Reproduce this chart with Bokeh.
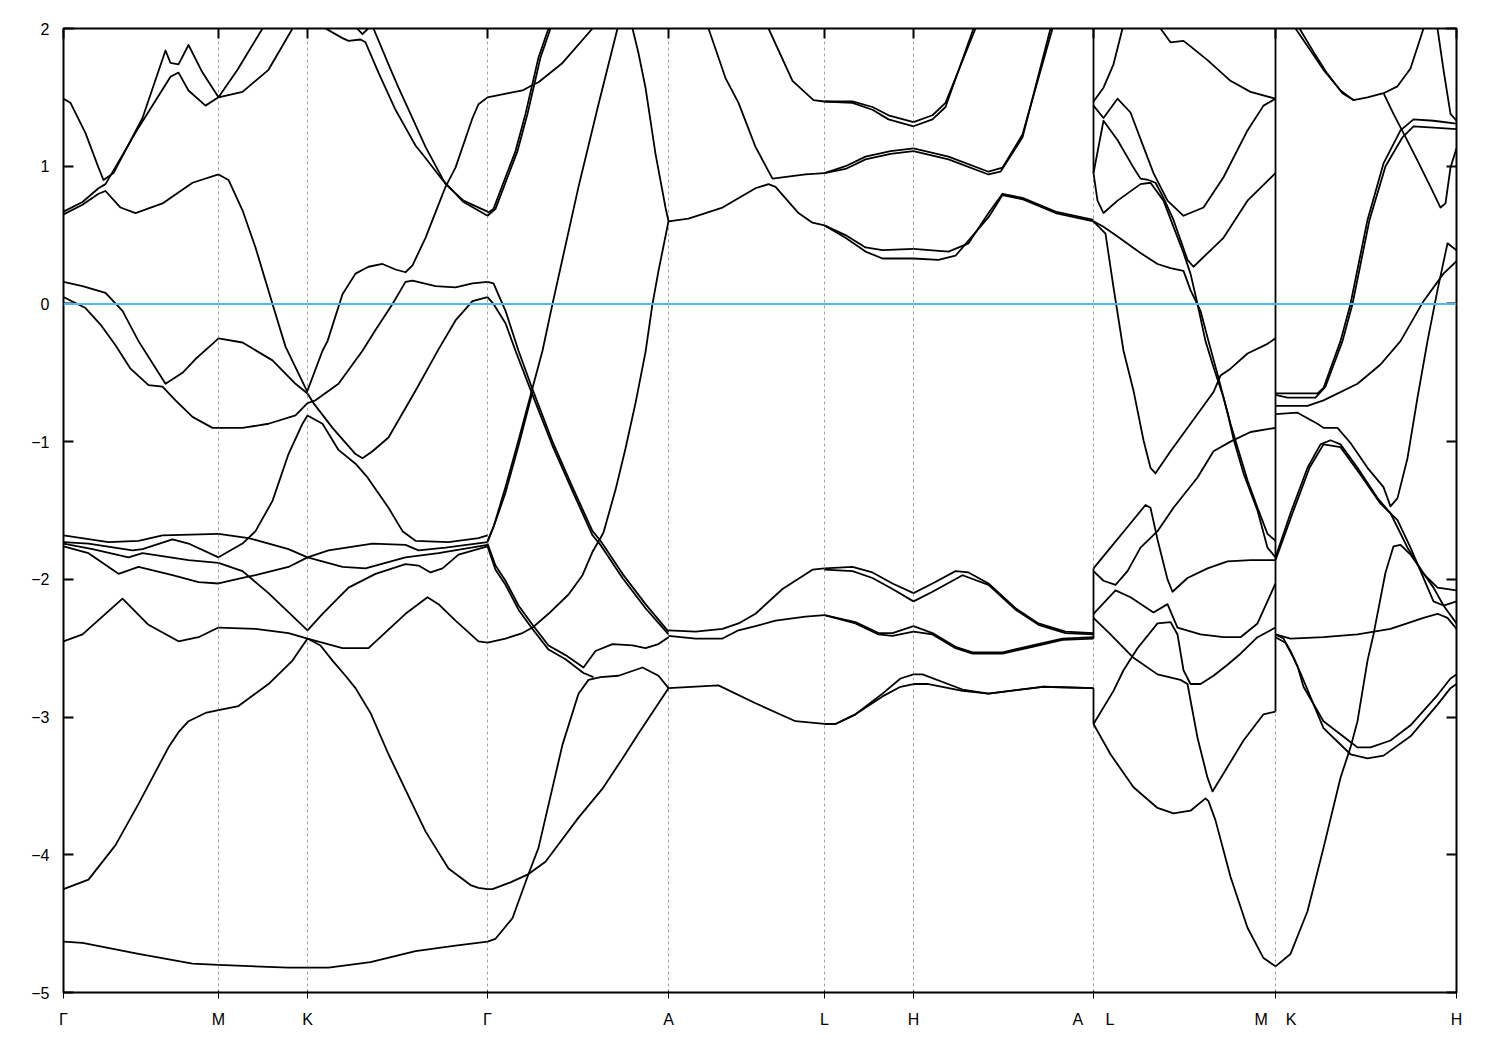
from bokeh.plotting import figure
from bokeh.models import (Range1d, FixedTicker, LinearAxis, Span, CustomJSTickFormatter)
from bokeh.embed import file_html
from bokeh.resources import INLINE

# ---------------- data ----------------
kpath = [0.00, 1.55, 2.44, 4.24, 6.05, 7.61, 8.50, 10.30, 12.12, 13.93]
# labels at each tick; the two discontinuities carry two labels (left|right)
klabels = ["Γ", "M", "K", "Γ", "A", "L", "H", "A\u00a0\u00a0\u00a0\u00a0\u00a0L", "M\u00a0\u00a0\u00a0\u00a0K", "H"]
yticks = [-5, -4, -3, -2, -1, 0, 1, 2]
fermi_level = 0.0

# Gamma - M
gm_a = [(0.00,1.49),(0.07,1.46),(0.22,1.24),(0.35,0.99),(0.40,0.90),(0.50,0.95),(0.79,1.35),(1.02,1.84),(1.07,1.75),(1.15,1.74),(1.25,1.88),(1.39,1.68),(1.55,1.50)]
gm_b = [(0.00,0.67),(0.19,0.74),(0.35,0.84),(0.42,0.87),(0.75,1.28),(1.07,1.65),(1.15,1.68),(1.25,1.55),(1.42,1.44),(1.55,1.50)]
gm_c = [(0.00,0.65),(0.19,0.72),(0.35,0.80),(0.42,0.82),(0.57,0.70),(0.72,0.66),(0.99,0.73),(1.29,0.88),(1.55,0.94)]
gm_d = [(0.00,0.16),(0.19,0.13),(0.42,0.08),(0.59,-0.05),(0.75,-0.27),(0.89,-0.43),(1.02,-0.58),(1.19,-0.50),(1.32,-0.40),(1.49,-0.29),(1.55,-0.25)]
gm_e = [(0.00,0.05),(0.22,-0.03),(0.37,-0.15),(0.52,-0.30),(0.67,-0.47),(0.85,-0.59),(0.99,-0.60),(1.12,-0.70),(1.29,-0.82),(1.49,-0.90),(1.55,-0.90)]
gm_l1 = [(0.00,-1.68),(0.45,-1.73),(0.75,-1.72),(0.99,-1.68),(1.55,-1.67)]
gm_l2 = [(0.00,-1.73),(0.25,-1.74),(0.69,-1.79),(0.79,-1.78),(1.09,-1.71),(1.25,-1.74),(1.55,-1.84)]
gm_l3 = [(0.00,-1.74),(0.29,-1.78),(0.65,-1.84),(0.79,-1.81),(1.25,-1.86),(1.55,-1.88)]
gm_l4 = [(0.00,-1.76),(0.25,-1.81),(0.55,-1.96),(0.75,-1.91),(1.09,-1.97),(1.35,-2.02),(1.55,-2.03)]
gm_l5 = [(0.00,-2.45),(0.19,-2.40),(0.59,-2.14),(0.85,-2.33),(1.15,-2.45),(1.35,-2.42),(1.55,-2.35)]
gm_l6 = [(0.00,-4.25),(0.25,-4.18),(0.52,-3.93),(0.75,-3.63),(1.05,-3.22),(1.15,-3.11),(1.25,-3.03),(1.42,-2.97),(1.55,-2.95)]
gm_l7 = [(0.00,-4.63),(0.19,-4.64),(0.75,-4.72),(1.29,-4.79),(1.55,-4.80)]

# M - K
mk_a = [(1.55,1.50),(1.74,1.70),(1.99,2.00),(2.12,2.20)]
mk_b = [(1.55,1.50),(1.79,1.54),(2.05,1.70),(2.29,2.00),(2.37,2.10)]
mk_c = [(1.55,0.94),(1.65,0.90),(1.79,0.68),(1.92,0.41),(2.09,0.00),(2.22,-0.31),(2.44,-0.64)]
mk_d = [(1.55,-0.25),(1.79,-0.28),(2.09,-0.41),(2.32,-0.58),(2.44,-0.65)]
mk_e = [(1.55,-0.90),(1.79,-0.90),(2.05,-0.87),(2.32,-0.81),(2.44,-0.72)]
mk_l1 = [(1.55,-1.67),(1.85,-1.70),(2.25,-1.78),(2.44,-1.84)]
mk_l2 = [(1.55,-1.84),(1.79,-1.74),(1.92,-1.65),(2.09,-1.43),(2.25,-1.09),(2.39,-0.87),(2.44,-0.81)]
mk_l3 = [(1.55,-1.88),(1.79,-1.94),(2.05,-2.10),(2.44,-2.37)]
mk_l4 = [(1.55,-2.03),(1.79,-1.99),(1.92,-1.97),(2.25,-1.91),(2.44,-1.84)]
mk_l5 = [(1.55,-2.35),(1.92,-2.36),(2.25,-2.39),(2.44,-2.43)]
mk_l6 = [(1.55,-2.95),(1.75,-2.92),(2.05,-2.76),(2.29,-2.59),(2.44,-2.43)]
mk_l7 = [(1.55,-4.80),(2.25,-4.82),(2.44,-4.82)]

# K - Gamma
kg_t1 = [(2.52,2.10),(2.62,2.00),(2.79,1.93),(2.85,1.91),(2.97,1.92),(3.02,1.90),(3.15,1.68),(3.32,1.41),(3.42,1.28),(3.52,1.15),(3.62,1.06),(3.79,0.90),(4.00,0.74),(4.24,0.64)]
kg_t2 = [(3.02,2.10),(3.10,2.00),(3.25,1.74),(3.35,1.57),(3.42,1.46),(3.62,1.14),(3.82,0.87),(4.00,0.75),(4.24,0.67)]
kg_t3 = [(2.87,2.05),(2.99,1.96),(3.12,2.05)]
kg_1 = [(2.44,-0.72),(2.52,-0.70),(2.75,-0.58),(2.99,-0.34),(3.12,-0.19),(3.29,0.00),(3.42,0.16),(3.49,0.17),(3.72,0.13),(3.92,0.12),(4.09,0.15),(4.24,0.16)]
kg_2 = [(2.44,-0.65),(2.50,-0.72),(2.69,-0.90),(2.92,-1.09),(2.99,-1.12),(3.09,-1.07),(3.25,-0.97),(3.52,-0.63),(3.75,-0.33),(3.92,-0.12),(4.09,0.02),(4.24,0.05)]
kg_3 = [(2.44,-0.63),(2.59,-0.34),(2.64,-0.27),(2.79,0.07),(2.92,0.22),(3.05,0.27),(3.19,0.29),(3.32,0.25),(3.42,0.23),(3.49,0.28),(3.62,0.48),(3.82,0.85),(3.92,0.99),(4.09,1.35),(4.15,1.45),(4.24,1.50)]
kg_p = [(2.44,-0.81),(2.59,-0.87),(2.75,-1.06),(2.92,-1.16),(3.04,-1.26),(3.25,-1.48),(3.39,-1.65),(3.52,-1.72),(3.85,-1.73),(4.15,-1.70),(4.24,-1.68)]
kg_q = [(2.44,-1.84),(2.65,-1.79),(3.09,-1.74),(3.42,-1.75),(3.55,-1.79),(3.82,-1.77),(4.24,-1.73)]
kg_r = [(2.44,-1.84),(2.79,-1.91),(3.02,-1.92),(3.42,-1.84),(3.75,-1.81),(4.24,-1.75)]
kg_s = [(2.44,-2.37),(2.59,-2.25),(2.85,-2.06),(3.12,-1.96),(3.42,-1.89),(3.55,-1.90),(3.67,-1.95),(3.79,-1.92),(3.95,-1.82),(4.24,-1.76)]
kg_t = [(2.44,-2.43),(2.79,-2.50),(3.05,-2.50),(3.42,-2.25),(3.64,-2.13),(3.75,-2.18),(3.92,-2.30),(4.15,-2.45),(4.24,-2.46)]
kg_u = [(2.44,-2.43),(2.57,-2.48),(2.69,-2.59),(2.82,-2.70),(2.92,-2.79),(3.07,-2.97),(3.25,-3.27),(3.52,-3.68),(3.62,-3.83),(3.85,-4.10),(4.07,-4.22),(4.15,-4.24),(4.24,-4.25)]
kg_v = [(2.44,-4.82),(2.65,-4.82),(3.07,-4.78),(3.52,-4.70),(3.92,-4.66),(4.24,-4.63)]

# Gamma - A
ga_t1 = [(4.24,0.66),(4.30,0.69),(4.42,0.92),(4.52,1.11),(4.62,1.38),(4.69,1.60),(4.75,1.79),(4.85,2.00),(4.89,2.15)]
ga_t2 = [(4.24,0.64),(4.32,0.69),(4.44,0.92),(4.54,1.11),(4.64,1.38),(4.71,1.60),(4.77,1.79),(4.87,2.00),(4.91,2.15)]
ga_h = [(4.24,1.50),(4.45,1.53),(4.59,1.55),(4.69,1.59),(4.75,1.61),(4.99,1.75),(5.29,2.00),(5.37,2.07)]
ga_g1 = [(4.24,-1.72),(4.30,-1.62),(4.42,-1.33),(4.55,-0.99),(4.69,-0.61),(4.79,-0.34),(4.89,0.00),(5.15,0.85),(5.35,1.45),(5.54,2.00),(5.58,2.12)]
ga_g2 = [(4.24,-1.73),(4.32,-1.58),(4.42,-1.37),(4.55,-1.03),(4.69,-0.64)]
ga_d1 = [(4.24,0.16),(4.30,0.15),(4.42,-0.05),(4.55,-0.34),(4.69,-0.62),(4.89,-1.00),(5.09,-1.33),(5.29,-1.65),(5.37,-1.72),(5.59,-1.96),(5.82,-2.18),(6.05,-2.38)]
ga_d2 = [(4.24,0.05),(4.30,0.00),(4.42,-0.14),(4.52,-0.34),(4.69,-0.66),(4.89,-1.03),(5.09,-1.36),(5.29,-1.68),(5.37,-1.75),(5.59,-1.99),(5.82,-2.21),(6.05,-2.40)]
ga_top = [(5.65,2.10),(5.69,2.00),(5.75,1.82),(5.82,1.57),(5.92,1.09),(6.02,0.70),(6.05,0.60)]
ga_w = [(4.24,-2.46),(4.42,-2.43),(4.59,-2.39),(4.69,-2.35),(4.85,-2.25),(5.05,-2.11),(5.19,-1.97),(5.29,-1.80),(5.37,-1.70),(5.40,-1.66),(5.52,-1.35),(5.62,-1.05),(5.72,-0.72),(5.82,-0.35),(5.89,0.00),(5.95,0.24),(6.05,0.60)]
ga_x1 = [(4.24,-1.74),(4.32,-1.90),(4.42,-2.01),(4.55,-2.19),(4.69,-2.33),(4.85,-2.48),(5.02,-2.55),(5.20,-2.64),(5.32,-2.52),(5.49,-2.47),(5.69,-2.48),(5.82,-2.50),(5.95,-2.47),(6.05,-2.42)]
ga_x2 = [(4.24,-1.76),(4.32,-1.93),(4.42,-2.04),(4.55,-2.22),(4.69,-2.36),(4.85,-2.51),(5.02,-2.58),(5.20,-2.68),(5.30,-2.71)]
ga_bot = [(4.24,-4.63),(4.32,-4.61),(4.49,-4.46),(4.65,-4.14),(4.75,-3.95),(4.99,-3.20),(5.15,-2.83),(5.25,-2.73),(5.37,-2.71),(5.55,-2.70),(5.79,-2.64),(5.95,-2.70),(6.05,-2.79)]
ga_u = [(4.24,-4.25),(4.29,-4.25),(4.47,-4.20),(4.65,-4.14),(4.82,-4.05),(5.15,-3.73),(5.39,-3.52),(5.59,-3.30),(5.75,-3.12),(6.05,-2.79)]

# A - L
al_top = [(6.37,2.15),(6.45,2.00),(6.62,1.64),(6.75,1.46),(6.92,1.14),(7.09,0.91),(7.42,0.94),(7.61,0.95)]
al_top2 = [(6.99,2.15),(7.05,2.00),(7.29,1.62),(7.50,1.48),(7.61,1.47)]
al_mid = [(6.05,0.60),(6.25,0.62),(6.59,0.70),(6.92,0.84),(7.05,0.87),(7.12,0.85),(7.35,0.66),(7.49,0.59),(7.61,0.57)]
al_l1 = [(6.05,-2.37),(6.32,-2.38),(6.59,-2.36),(6.75,-2.32),(6.92,-2.25),(7.19,-2.07),(7.49,-1.93),(7.61,-1.92)]
al_l2 = [(6.05,-2.41),(6.32,-2.43),(6.59,-2.43),(6.75,-2.37),(6.92,-2.34),(7.12,-2.30),(7.42,-2.27),(7.61,-2.26)]
al_bot = [(6.05,-2.79),(6.55,-2.77),(6.92,-2.90),(7.32,-3.03),(7.61,-3.05)]

# L - H
lh_t1 = [(7.61,1.47),(7.89,1.47),(8.09,1.43),(8.25,1.37),(8.50,1.32)]
lh_t2 = [(7.61,1.47),(7.89,1.46),(8.09,1.41),(8.25,1.34),(8.50,1.29)]
lh_m1 = [(7.61,0.95),(7.82,1.00),(8.02,1.07),(8.27,1.11),(8.50,1.13)]
lh_m2 = [(7.61,0.95),(7.82,0.98),(8.02,1.05),(8.27,1.09),(8.50,1.11)]
lh_l1 = [(7.61,0.57),(7.82,0.50),(8.02,0.41),(8.19,0.39),(8.50,0.40)]
lh_l2 = [(7.61,0.57),(7.82,0.48),(8.02,0.38),(8.19,0.33),(8.50,0.33)]
lh_v1 = [(7.61,-1.92),(7.89,-1.91),(8.09,-1.95),(8.29,-2.03),(8.50,-2.10)]
lh_v2 = [(7.61,-1.93),(7.89,-1.94),(8.09,-1.99),(8.29,-2.07),(8.50,-2.16)]
lh_v3 = [(7.61,-2.26),(7.92,-2.31),(8.15,-2.39),(8.29,-2.39),(8.50,-2.34)]
lh_v4 = [(7.61,-2.26),(7.92,-2.32),(8.15,-2.40),(8.29,-2.41),(8.50,-2.38)]
lh_b1 = [(7.61,-3.05),(7.72,-3.05),(7.92,-2.98),(8.19,-2.83),(8.37,-2.72),(8.50,-2.69)]
lh_b2 = [(7.61,-3.05),(7.72,-3.05),(7.92,-2.98),(8.19,-2.85),(8.37,-2.78),(8.50,-2.76)]

# H - A
ha_t1 = [(8.50,1.32),(8.69,1.37),(8.82,1.46),(9.12,2.00),(9.17,2.10)]
ha_t2 = [(8.50,1.29),(8.69,1.34),(8.82,1.43),(9.10,2.00),(9.15,2.10)]
ha_m1 = [(8.50,1.13),(8.85,1.07),(9.25,0.96),(9.39,0.99),(9.59,1.23),(9.89,2.00),(9.93,2.10)]
ha_m2 = [(8.50,1.11),(8.85,1.05),(9.25,0.94),(9.37,0.96),(9.59,1.21),(9.87,2.00),(9.91,2.10)]
ha_l1 = [(8.50,0.40),(8.85,0.38),(9.05,0.44),(9.25,0.66),(9.39,0.80),(9.59,0.77),(9.92,0.67),(10.30,0.61)]
ha_l2 = [(8.50,0.33),(8.75,0.32),(8.92,0.35),(9.25,0.63),(9.39,0.79),(9.59,0.76),(9.92,0.66),(10.30,0.60)]
ha_v1 = [(8.50,-2.10),(8.69,-2.03),(8.92,-1.94),(9.05,-1.95),(9.25,-2.03),(9.52,-2.21),(9.75,-2.32),(10.02,-2.38),(10.30,-2.39)]
ha_v2 = [(8.50,-2.16),(8.69,-2.09),(8.99,-1.97),(9.25,-2.04),(9.52,-2.22),(9.75,-2.33),(10.02,-2.39),(10.30,-2.40)]
ha_v3 = [(8.50,-2.34),(8.69,-2.39),(8.92,-2.49),(9.09,-2.53),(9.39,-2.53),(9.69,-2.48),(9.99,-2.43),(10.30,-2.42)]
ha_v4 = [(8.50,-2.38),(8.69,-2.40),(8.92,-2.50),(9.09,-2.54),(9.39,-2.54),(9.69,-2.49),(9.99,-2.44),(10.30,-2.43)]
ha_b1 = [(8.50,-2.69),(8.59,-2.69),(8.99,-2.80),(9.25,-2.83),(9.79,-2.78),(10.30,-2.79)]
ha_b2 = [(8.50,-2.76),(8.65,-2.76),(8.99,-2.81),(9.25,-2.83),(9.79,-2.78),(10.30,-2.79)]

# L - M
lm_1 = [(10.30,1.47),(10.40,1.57),(10.50,1.74),(10.59,2.00),(10.62,2.10)]
lm_2 = [(10.30,1.44),(10.40,1.35),(10.54,1.49),(10.67,1.39),(10.80,1.14),(10.90,0.95),(11.04,0.75),(11.20,0.64),(11.40,0.70),(11.60,0.92),(11.84,1.26),(12.00,1.44),(12.12,1.49)]
lm_3 = [(10.30,0.95),(10.35,1.14),(10.40,1.33),(10.54,1.19),(10.70,0.99),(10.77,0.91),(10.85,0.90),(10.92,0.88),(11.00,0.77),(11.10,0.61),(11.24,0.32),(11.30,0.27),(11.60,0.48),(11.84,0.75),(12.12,0.95)]
lm_4 = [(10.30,0.95),(10.34,0.75),(10.40,0.66),(10.54,0.75),(10.77,0.87),(10.87,0.88),(11.00,0.75),(11.10,0.56),(11.20,0.37),(11.27,0.22),(11.34,0.00),(11.42,-0.27),(11.50,-0.46),(11.60,-0.68),(11.67,-0.87),(11.74,-1.04),(11.84,-1.28),(11.94,-1.48),(12.04,-1.67),(12.12,-1.72)]
lm_5 = [(10.30,0.60),(10.40,0.56),(10.54,0.49),(10.77,0.37),(10.94,0.29),(11.07,0.26),(11.20,0.24),(11.27,0.10),(11.37,-0.05),(11.45,-0.27),(11.54,-0.51),(11.64,-0.79),(11.70,-0.98),(11.80,-1.23),(11.94,-1.50),(12.04,-1.77),(12.12,-1.84)]
lm_v = [(10.30,0.60),(10.42,0.51),(10.50,0.12),(10.60,-0.34),(10.70,-0.63),(10.80,-0.99),(10.87,-1.19),(10.92,-1.23),(11.07,-1.07),(11.27,-0.87),(11.50,-0.64),(11.57,-0.52),(11.67,-0.47),(11.84,-0.36),(12.04,-0.29),(12.12,-0.25)]
lm_7 = [(10.92,2.10),(10.97,2.00),(11.07,1.90),(11.20,1.91),(11.27,1.87),(11.44,1.77),(11.67,1.62),(11.87,1.54),(12.12,1.49)]
lm_l1 = [(10.30,-1.92),(10.47,-1.77),(10.64,-1.62),(10.82,-1.46),(10.87,-1.48),(10.94,-1.71),(11.04,-2.00),(11.09,-2.09),(11.24,-1.99),(11.44,-1.92),(11.64,-1.87),(11.87,-1.86),(12.12,-1.86)]
lm_l2 = [(10.30,-1.94),(10.40,-2.01),(10.52,-2.04),(10.64,-1.94),(10.77,-1.77),(10.94,-1.65),(11.10,-1.48),(11.34,-1.26),(11.50,-1.07),(11.67,-1.00),(11.87,-0.93),(12.12,-0.90)]
lm_l3 = [(10.30,-2.25),(10.52,-2.08),(10.67,-2.13),(10.90,-2.24),(11.04,-2.18),(11.14,-2.35),(11.37,-2.40),(11.60,-2.42),(11.77,-2.42),(11.94,-2.32),(12.12,-2.03)]
lm_l4 = [(10.30,-2.28),(10.47,-2.40),(10.70,-2.57),(10.94,-2.69),(11.17,-2.73),(11.24,-2.76),(11.34,-3.15),(11.44,-3.44),(11.49,-3.54),(11.60,-3.41),(11.80,-3.17),(12.00,-2.98),(12.12,-2.96)]
lm_l5 = [(10.30,-3.05),(10.50,-2.81),(10.60,-2.66),(10.74,-2.50),(10.94,-2.32),(11.07,-2.31),(11.14,-2.40),(11.20,-2.66),(11.27,-2.76),(11.37,-2.76),(11.50,-2.70),(11.64,-2.62),(11.77,-2.54),(11.94,-2.42),(12.12,-2.35)]
lm_l6 = [(10.30,-3.05),(10.47,-3.27),(10.70,-3.51),(10.94,-3.66),(11.10,-3.70),(11.27,-3.68),(11.42,-3.59),(11.45,-3.61),(11.52,-3.75),(11.67,-4.16),(11.84,-4.53),(12.00,-4.75),(12.12,-4.81)]

# K - H
kh_t1 = [(12.27,2.10),(12.32,2.00),(12.47,1.84),(12.60,1.70),(12.77,1.55),(12.90,1.48),(13.04,1.50),(13.20,1.53),(13.34,1.58),(13.47,1.71),(13.60,2.00),(13.63,2.10)]
kh_t2 = [(12.31,2.10),(12.36,2.00),(12.50,1.83),(12.63,1.68),(12.79,1.53),(12.90,1.48)]
kh_t3 = [(13.20,1.53),(13.30,1.38),(13.40,1.24),(13.54,1.04),(13.67,0.85),(13.77,0.70),(13.82,0.73),(13.87,0.99),(13.93,1.13)]
kh_t4 = [(13.72,2.10),(13.74,2.00),(13.80,1.70),(13.87,1.38),(13.93,1.33)]
kh_a = [(12.12,-0.65),(12.27,-0.65),(12.54,-0.65),(12.60,-0.61),(12.77,-0.27),(12.87,0.00),(13.04,0.61),(13.20,1.02),(13.37,1.26),(13.50,1.34),(13.70,1.33),(13.93,1.31)]
kh_a2 = [(12.12,-0.66),(12.24,-0.68),(12.52,-0.68),(12.62,-0.60),(12.79,-0.27),(12.89,0.00),(13.06,0.61),(13.22,1.00),(13.39,1.21),(13.50,1.29),(13.70,1.28),(13.93,1.27)]
kh_b = [(12.12,-0.74),(12.24,-0.74),(12.44,-0.74),(12.60,-0.70),(12.94,-0.58),(13.17,-0.44),(13.37,-0.27),(13.60,0.02),(13.80,0.22),(13.93,0.31)]
kh_c = [(12.12,-0.80),(12.34,-0.79),(12.54,-0.87),(12.60,-0.90),(12.74,-0.90),(12.87,-1.01),(13.04,-1.19),(13.20,-1.33),(13.27,-1.47),(13.34,-1.41),(13.44,-1.12),(13.54,-0.68),(13.64,-0.27),(13.74,0.10),(13.84,0.44),(13.93,0.39)]
kh_d = [(12.12,-1.84),(12.27,-1.52),(12.44,-1.19),(12.57,-1.02),(12.67,-0.99),(12.77,-1.02),(12.94,-1.19),(13.14,-1.41),(13.27,-1.52),(13.44,-1.77),(13.60,-1.96),(13.74,-2.06),(13.93,-2.08)]
kh_d2 = [(12.12,-1.86),(12.29,-1.52),(12.46,-1.19),(12.60,-1.02),(12.77,-1.04),(12.97,-1.24),(13.17,-1.45),(13.34,-1.57),(13.47,-1.77),(13.70,-2.16),(13.80,-2.19),(13.93,-2.16)]
kh_e = [(12.12,-4.81),(12.27,-4.72),(12.44,-4.41),(12.60,-3.95),(12.77,-3.44),(12.87,-3.22),(12.94,-3.03),(13.04,-2.59),(13.10,-2.40),(13.22,-1.95),(13.30,-1.76),(13.37,-1.75),(13.47,-1.82),(13.70,-2.06),(13.80,-2.19),(13.93,-2.32)]
kh_f = [(12.12,-2.40),(12.27,-2.43),(12.60,-2.42),(12.94,-2.40),(13.27,-2.36),(13.60,-2.28),(13.74,-2.25),(13.84,-2.28),(13.93,-2.36)]
kh_g1 = [(12.12,-2.40),(12.20,-2.43),(12.27,-2.52),(12.34,-2.63),(12.40,-2.78),(12.60,-3.03),(12.85,-3.17),(12.94,-3.22),(13.07,-3.22),(13.27,-3.17),(13.47,-3.06),(13.74,-2.84),(13.87,-2.72),(13.93,-2.69)]
kh_g2 = [(12.12,-2.42),(12.22,-2.46),(12.30,-2.57),(12.37,-2.68),(12.60,-3.08),(12.87,-3.27),(13.04,-3.30),(13.20,-3.28),(13.47,-3.14),(13.74,-2.91),(13.87,-2.79),(13.93,-2.76)]

# band discontinuities (A|L and M|K): k, lower and upper energy of the jump
jump_k = [10.30, 10.30, 10.30, 12.12]
jump_lo = [0.95, -2.43, -3.05, -2.96]
jump_hi = [2.00, -1.92, -2.79, 2.00]

bands = [gm_a, gm_b, gm_c, gm_d, gm_e, gm_l1, gm_l2, gm_l3, gm_l4, gm_l5, gm_l6, gm_l7,
         mk_a, mk_b, mk_c, mk_d, mk_e, mk_l1, mk_l2, mk_l3, mk_l4, mk_l5, mk_l6, mk_l7,
         kg_t1, kg_t2, kg_t3, kg_1, kg_2, kg_3, kg_p, kg_q, kg_r, kg_s, kg_t, kg_u, kg_v,
         ga_t1, ga_t2, ga_h, ga_g1, ga_g2, ga_d1, ga_d2, ga_top, ga_w, ga_x1, ga_x2, ga_bot, ga_u,
         al_top, al_top2, al_mid, al_l1, al_l2, al_bot,
         lh_t1, lh_t2, lh_m1, lh_m2, lh_l1, lh_l2, lh_v1, lh_v2, lh_v3, lh_v4, lh_b1, lh_b2,
         ha_t1, ha_t2, ha_m1, ha_m2, ha_l1, ha_l2, ha_v1, ha_v2, ha_v3, ha_v4, ha_b1, ha_b2,
         lm_1, lm_2, lm_3, lm_4, lm_5, lm_v, lm_7, lm_l1, lm_l2, lm_l3, lm_l4, lm_l5, lm_l6,
         kh_t1, kh_t2, kh_t3, kh_t4, kh_a, kh_a2, kh_b, kh_c, kh_d, kh_d2, kh_e, kh_f, kh_g1, kh_g2]

# ---------------- figure ----------------
FONT = "Liberation Sans"
p = figure(frame_width=1393, frame_height=964,
           x_range=Range1d(kpath[0], kpath[-1]), y_range=Range1d(yticks[0], yticks[-1]),
           output_backend="svg", toolbar_location=None,
           min_border_left=63, min_border_right=44, min_border_top=28, min_border_bottom=58)
p.background_fill_color = "white"
p.border_fill_color = "white"
p.outline_line_color = "black"
p.outline_line_width = 2

p.ygrid.visible = False
p.xgrid.ticker = FixedTicker(ticks=kpath[1:-1])
p.xgrid.grid_line_color = "#a0a0a0"
p.xgrid.grid_line_dash = "3 3"
p.xgrid.grid_line_width = 1

blank = CustomJSTickFormatter(code="return ''")
xlab = CustomJSTickFormatter(args=dict(pos=kpath, lab=klabels), code="""
    const i = pos.findIndex(v => Math.abs(v - tick) < 1e-6);
    return i >= 0 ? lab[i] : '';
""")

# bottom axis with k-point labels
p.xaxis.ticker = FixedTicker(ticks=kpath)
p.xaxis.formatter = xlab
p.xaxis.major_label_text_font = FONT
p.xaxis.major_label_text_font_size = "16px"
p.xaxis.major_label_text_color = "black"
p.xaxis.major_label_standoff = 12
# left axis
p.yaxis.ticker = FixedTicker(ticks=yticks)
p.yaxis.major_label_text_font = FONT
p.yaxis.major_label_text_font_size = "16px"
p.yaxis.major_label_text_color = "black"
p.yaxis.major_label_standoff = 14

top_axis = LinearAxis(ticker=FixedTicker(ticks=kpath), formatter=blank)
right_axis = LinearAxis(ticker=FixedTicker(ticks=yticks), formatter=blank)
p.add_layout(top_axis, "above")
p.add_layout(right_axis, "right")

for ax in [p.xaxis[0], p.yaxis[0], top_axis, right_axis]:
    ax.major_tick_in = 10
    ax.major_tick_out = 0
    ax.minor_tick_line_color = None
    ax.major_tick_line_color = "black"
    ax.major_tick_line_width = 2
    ax.axis_line_color = None

xs = [[pt[0] for pt in b] for b in bands]
ys = [[pt[1] for pt in b] for b in bands]
p.multi_line(xs=xs, ys=ys, line_color="black", line_width=1.8, line_join="round")
p.segment(x0=jump_k, y0=jump_lo, x1=jump_k, y1=jump_hi, line_color="black", line_width=1.8)

p.add_layout(Span(location=fermi_level, dimension="width", line_color="#56b4e9", line_width=2))

open("out.html", "w").write(file_html(p, INLINE))
